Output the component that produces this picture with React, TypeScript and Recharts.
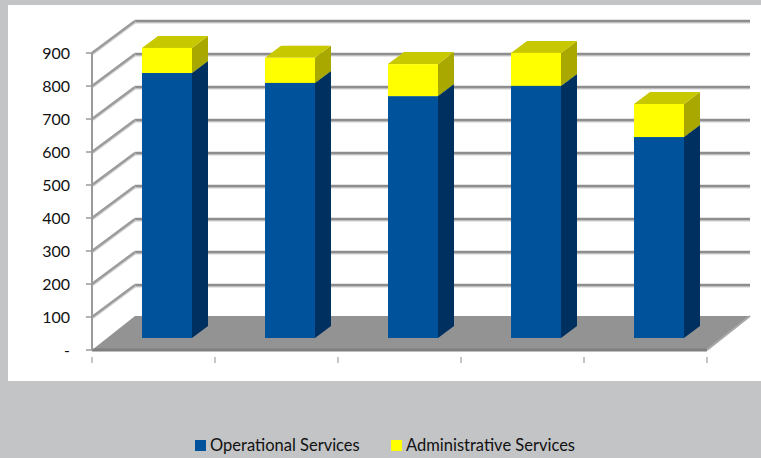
import { BarChart, Bar, XAxis, YAxis, CartesianGrid, Legend } from 'recharts'

const categories = ['1', '2', '3', '4', '5']
const operational = [803, 773, 733, 764, 609]
const administrative = [76, 76, 97, 100, 100]
const yTicks = [0, 100, 200, 300, 400, 500, 600, 700, 800, 900]

const chartData = categories.map((name, i) => ({
  name,
  operational: operational[i],
  administrative: administrative[i],
}))

const FONT = 'Lato, "Open Sans", sans-serif'
const WALL_DX = 43
const WALL_DY = 32
const FLOOR_DY = 34
const BAR_SHIFT_X = 13
const BAR_SHIFT_Y = 12
const BAR_DX = 16
const BAR_DY = 12
const BAND = 123

function GridLine(props: any) {
  const { x1, x2, y1, index } = props
  const backL = x1 + WALL_DX
  const backR = x2 + WALL_DX
  const isFloor = y1 > 340
  const backY = y1 - (isFloor ? FLOOR_DY : WALL_DY)
  return (
    <g key={`grid-${index}`}>
      {isFloor ? (
        <>
          <polygon points={`${x1},${y1} ${backL},${backY} ${backR},${backY} ${x2},${y1}`} fill="#939393" />
          <line x1={x1} y1={y1} x2={x2} y2={y1} stroke="#7f7f7f" strokeWidth={3} />
          <line x1={x2} y1={y1} x2={backR} y2={backY} stroke="#a8a8a8" strokeWidth={2} />
        </>
      ) : (
        <>
          <line x1={backL} y1={backY + 1.5} x2={backR} y2={backY + 1.5} stroke="#cfcfcf" strokeWidth={2} />
          <line x1={backL} y1={backY} x2={backR} y2={backY} stroke="#8e8e8e" strokeWidth={2.5} />
          <line x1={x1 + 1} y1={y1 + 1} x2={backL + 1} y2={backY + 1} stroke="#d2d2d2" strokeWidth={2} />
          <line x1={x1} y1={y1} x2={backL} y2={backY} stroke="#9c9c9c" strokeWidth={2.5} />
        </>
      )}
    </g>
  )
}

function Box({ x, y, width, height, front, side, top }: any) {
  const fx = x + BAR_SHIFT_X
  const fy = y - BAR_SHIFT_Y
  const r = fx + width
  const b = fy + height
  return (
    <g>
      <polygon points={`${r},${fy} ${r + BAR_DX},${fy - BAR_DY} ${r + BAR_DX},${b - BAR_DY} ${r},${b}`} fill={side} />
      <polygon points={`${fx},${fy} ${fx + BAR_DX},${fy - BAR_DY} ${r + BAR_DX},${fy - BAR_DY} ${r},${fy}`} fill={top} />
      <rect x={fx} y={fy} width={width} height={height} fill={front} />
    </g>
  )
}

function BandTick({ x, y, index }: any) {
  const left = x - BAND / 2
  return (
    <g stroke="#8c8c8c" strokeWidth={1}>
      <line x1={left} y1={y - 1} x2={left} y2={y + 5} />
      {index === categories.length - 1 && <line x1={left + BAND} y1={y - 1} x2={left + BAND} y2={y + 5} />}
    </g>
  )
}

function LegendRow({ payload }: any) {
  const gaps = [0, 196]
  return (
    <div style={{ position: 'relative', height: 22, fontFamily: FONT, fontSize: 16.5, color: '#111' }}>
      {(payload || []).map((item: any, i: number) => (
        <div key={item.value} style={{ position: 'absolute', left: gaps[i], top: 0, whiteSpace: 'nowrap', lineHeight: '20px' }}>
          <span style={{ display: 'inline-block', width: 11, height: 11, marginRight: 4, background: item.color }} />
          {item.value}
        </div>
      ))}
    </div>
  )
}

export default function App() {
  return (
    <div style={{ position: 'absolute', left: 0, top: 0, width: 761, height: 458, background: '#c3c4c6', overflow: 'hidden' }}>
      <div style={{ position: 'absolute', left: 8, top: 5, width: 753, height: 376, background: '#fff' }} />
      <div style={{ position: 'absolute', left: 0, top: 0 }}>
        <BarChart
          width={761}
          height={458}
          data={chartData}
          barSize={50}
          margin={{ top: 53, right: 54, bottom: 0, left: 0 }}
        >
          <CartesianGrid horizontal={(p: any) => <GridLine {...p} />} vertical={false} />
          <XAxis
            dataKey="name"
            height={86}
            axisLine={false}
            tickLine={false}
            tick={(p: any) => <BandTick {...p} />}
            interval={0}
          />
          <YAxis
            width={92}
            domain={[0, 900]}
            ticks={yTicks}
            interval={0}
            tickFormatter={(v: number) => (v === 0 ? '-' : String(v))}
            tick={{ fontFamily: FONT, fontSize: 16, fill: '#111' }}
            tickSize={6}
            tickMargin={16}
            axisLine={{ stroke: '#9a9a9a', strokeWidth: 2 }}
            tickLine={{ stroke: '#9a9a9a', strokeWidth: 1.5 }}
          />
          <Legend
            content={<LegendRow />}
            itemSorter={null}
            verticalAlign="bottom"
            wrapperStyle={{ left: 195, top: 435, bottom: 'auto', width: 400 }}
          />
          <Bar
            dataKey="operational"
            name="Operational Services"
            stackId="a"
            fill="#00529b"
            isAnimationActive={false}
            shape={(p: any) => <Box {...p} front="#00529b" side="#00305f" top="#00407a" />}
          />
          <Bar
            dataKey="administrative"
            name="Administrative Services"
            stackId="a"
            fill="#ffff00"
            isAnimationActive={false}
            shape={(p: any) => <Box {...p} front="#ffff00" side="#a8a800" top="#c8c800" />}
          />
        </BarChart>
      </div>
    </div>
  )
}
